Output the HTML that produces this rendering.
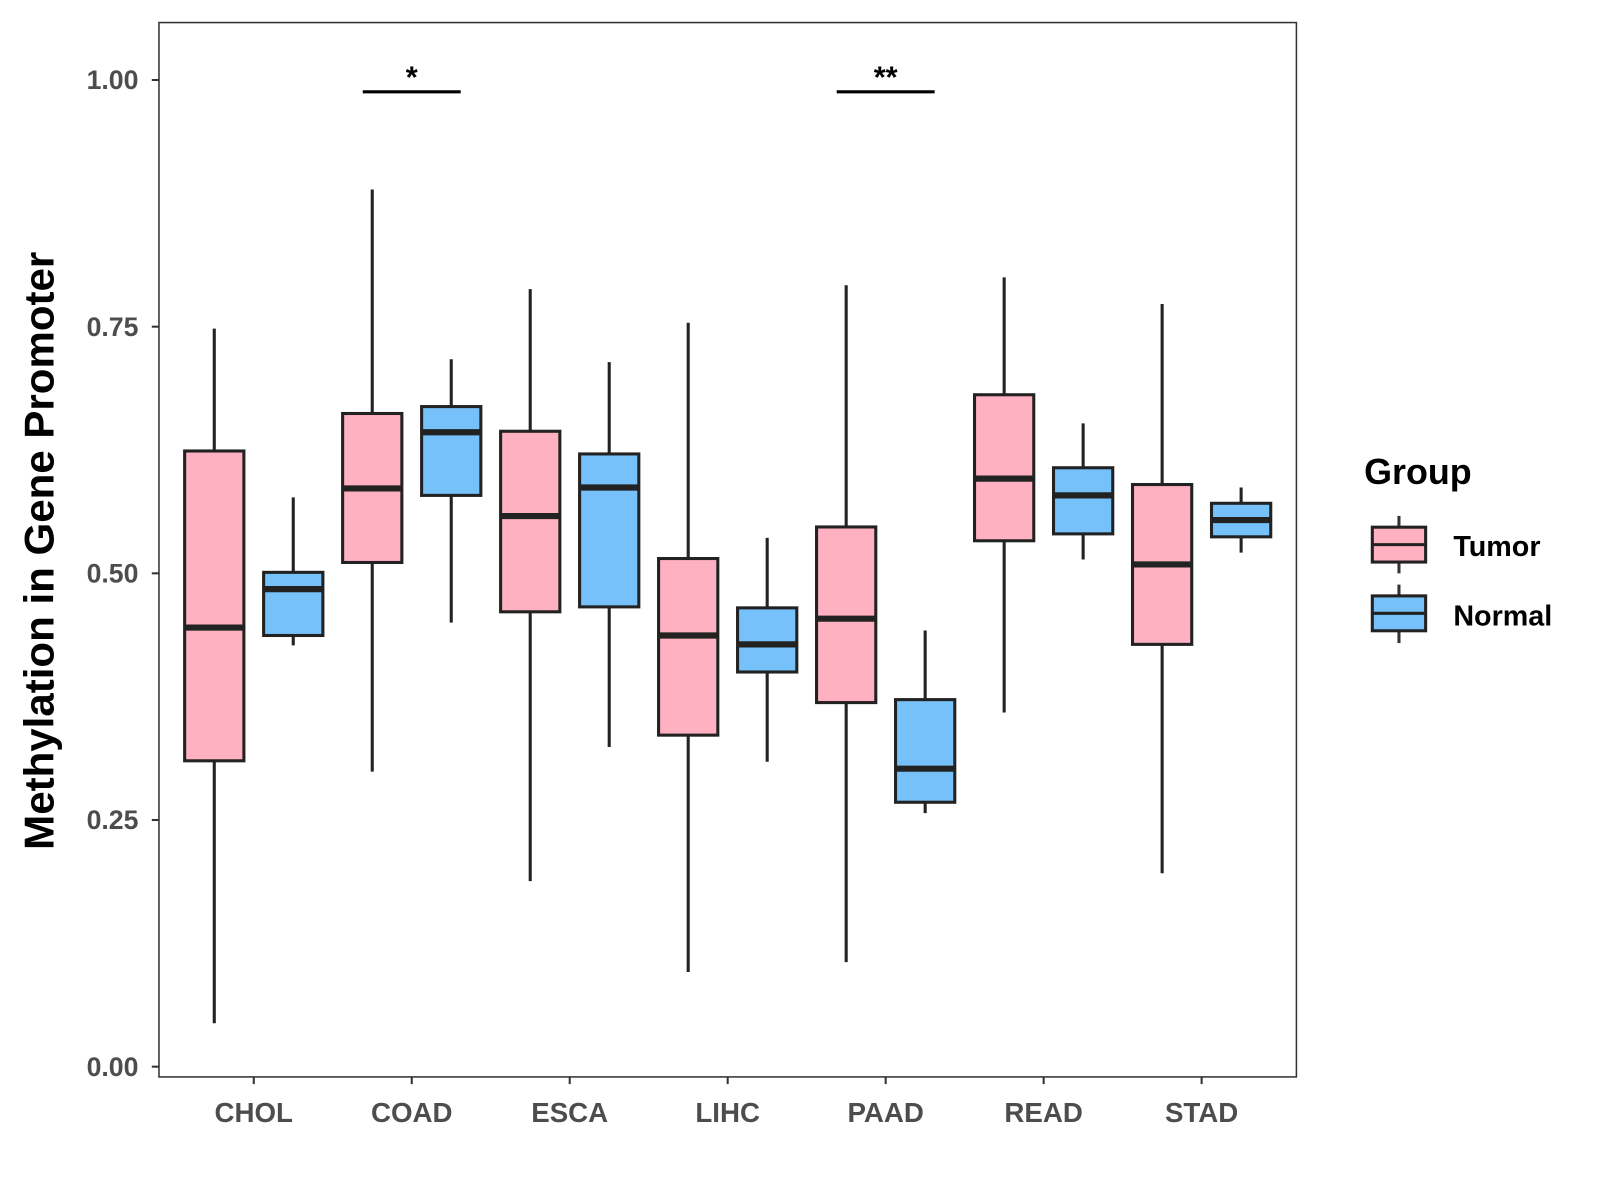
<!DOCTYPE html>
<html><head><meta charset="utf-8"><style>html,body{margin:0;padding:0;background:#fff}svg{display:block}</style></head>
<body>
<svg id="chart" width="1600" height="1200" viewBox="0 0 1560 1170" xmlns="http://www.w3.org/2000/svg" font-family="Liberation Sans, Arial, sans-serif">
<rect x="0" y="0" width="1560" height="1170" fill="#fff"/>
<g id="plot"></g>
<rect x="155" y="22" width="1109" height="1028" fill="none" stroke="#333" stroke-width="1.5"/>
<text transform="translate(52,537) rotate(-90)" text-anchor="middle" font-size="41" font-weight="bold" fill="#000">Methylation in Gene Promoter</text>
<g>
<text x="1330" y="472" font-size="35" font-weight="bold" fill="#000">Group</text>
<g>
<line x1="1364" y1="503" x2="1364" y2="559" stroke="#333" stroke-width="3"/>
<rect x="1338" y="514" width="52" height="34" fill="#FFB0C1" stroke="#222" stroke-width="3"/>
<line x1="1338" y1="531" x2="1390" y2="531" stroke="#222" stroke-width="3"/>
<text x="1417" y="542" font-size="28" font-weight="bold" fill="#000">Tumor</text>
</g>
<g>
<line x1="1364" y1="570" x2="1364" y2="627" stroke="#333" stroke-width="3"/>
<rect x="1338" y="581" width="52" height="34" fill="#76C1F9" stroke="#222" stroke-width="3"/>
<line x1="1338" y1="598" x2="1390" y2="598" stroke="#222" stroke-width="3"/>
<text x="1417" y="610" font-size="28" font-weight="bold" fill="#000">Normal</text>
</g>
</g>
</svg>
<script>
const categories = ["CHOL","COAD","ESCA","LIHC","PAAD","READ","STAD"];
const groups = ["Tumor","Normal"];
// [lower whisker, Q1, median, Q3, upper whisker]
const tumorStats = [
 [0.044,0.310,0.445,0.624,0.748],
 [0.299,0.511,0.586,0.662,0.889],
 [0.188,0.461,0.558,0.644,0.788],
 [0.096,0.336,0.437,0.515,0.754],
 [0.106,0.369,0.454,0.547,0.792],
 [0.359,0.533,0.596,0.681,0.800],
 [0.196,0.428,0.509,0.590,0.773]
];
const normalStats = [
 [0.427,0.437,0.484,0.501,0.577],
 [0.450,0.579,0.643,0.669,0.717],
 [0.324,0.466,0.587,0.621,0.714],
 [0.309,0.400,0.428,0.465,0.536],
 [0.257,0.268,0.302,0.372,0.442],
 [0.514,0.540,0.579,0.607,0.652],
 [0.521,0.537,0.554,0.571,0.587]
];
const yTicks = [0,0.25,0.5,0.75,1.0];
const yTickLabels = ["0.00","0.25","0.50","0.75","1.00"];
const sigCategories = ["COAD","PAAD"];
const sigLabels = ["*","**"];
const sigLevel = 0.988;

const NS="http://www.w3.org/2000/svg";
const g=document.getElementById('plot');
const PL=155,PR=1264,PT=22,PB=1050;
const step=(PR-PL)/(categories.length-1+1.2);
const xC=i=>PL+step*(0.6+i);
const y=v=>1040-v*962;
const colors={Tumor:"#FFB0C1",Normal:"#76C1F9"};
function mk(tag,attrs){const e=document.createElementNS(NS,tag);for(const k in attrs)e.setAttribute(k,attrs[k]);g.appendChild(e);return e;}

yTicks.forEach((t,i)=>{
 const l=mk('line',{x1:PL-7,x2:PL,y1:y(t),y2:y(t),stroke:'#333','stroke-width':2});
 
 
 const tx=mk('text',{x:PL-20,y:y(t)+9,'text-anchor':'end','font-size':26,'font-weight':'bold',fill:'#4d4d4d'});
 tx.textContent=yTickLabels[i];
 
 
});
categories.forEach((c,i)=>{
 const l=mk('line',{x1:xC(i),x2:xC(i),y1:PB,y2:PB+7,stroke:'#333','stroke-width':2});
 
 
 const tx=mk('text',{x:xC(i),y:PB+44,'text-anchor':'middle','font-size':27,'font-weight':'bold',fill:'#4d4d4d'});
 tx.textContent=c;
 
 
});
const bw=step*0.375, off=step*0.25;
function drawBox(s,cx,grp,cat){
 const wg=mk('line',{x1:cx,x2:cx,y1:y(s[0]),y2:y(s[4]),stroke:'#222','stroke-width':3});
 
 
 const r=mk('rect',{x:cx-bw/2,y:y(s[3]),width:bw,height:y(s[1])-y(s[3]),fill:colors[grp],stroke:'#222','stroke-width':3});
 
 
 const m=mk('line',{x1:cx-bw/2,x2:cx+bw/2,y1:y(s[2]),y2:y(s[2]),stroke:'#222','stroke-width':6});
 
 
}
categories.forEach((c,i)=>{
 drawBox(tumorStats[i],xC(i)-off,'Tumor',c);
 drawBox(normalStats[i],xC(i)+off,'Normal',c);
});
sigCategories.forEach((c,k)=>{
 const i=categories.indexOf(c);
 const l=mk('line',{x1:xC(i)-step*0.31,x2:xC(i)+step*0.31,y1:y(sigLevel),y2:y(sigLevel),stroke:'#000','stroke-width':3});
 
 
 const t=mk('text',{x:xC(i),y:y(sigLevel)-4,'text-anchor':'middle','font-size':30,'font-weight':'bold',fill:'#000'});
 t.textContent=sigLabels[k];
 
 
});
</script>
</body></html>
